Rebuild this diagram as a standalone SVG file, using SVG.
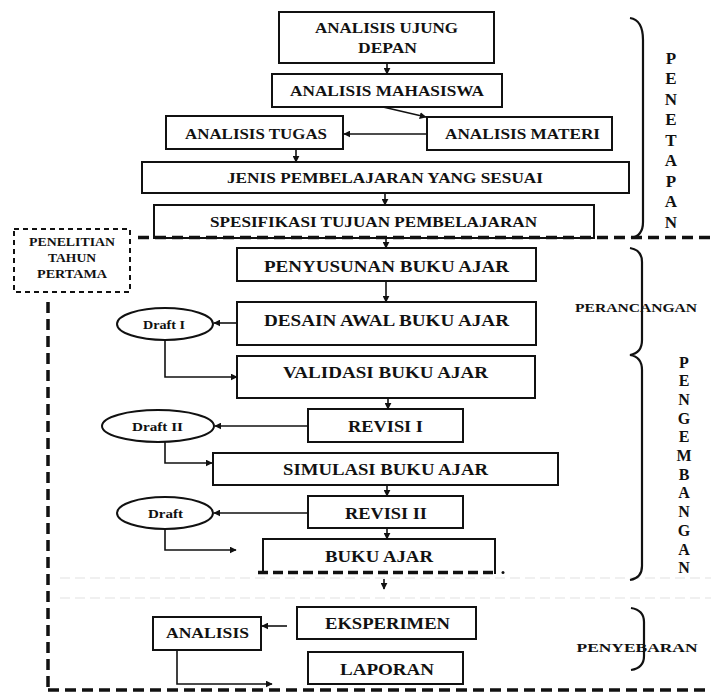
<svg xmlns="http://www.w3.org/2000/svg" width="711" height="695" viewBox="0 0 711 695">
<style>
.b{fill:#fff;stroke:#111;stroke-width:2}
.t{font-family:"Liberation Serif","Times New Roman",serif;font-weight:bold;fill:#111;text-anchor:middle}
.v{font-family:"Liberation Serif","Times New Roman",serif;font-weight:bold;fill:#111;text-anchor:middle}
.c{fill:none;stroke:#111;stroke-width:1.6}
.br{fill:none;stroke:#111;stroke-width:2.2}
.d{fill:none;stroke:#111;stroke-width:3.5;stroke-dasharray:11 6}
.faint{fill:none;stroke:#ececec;stroke-width:1.5;stroke-dasharray:10 5}
</style>
<defs>
<marker id="ah" viewBox="0 0 10 10" refX="9" refY="5" markerWidth="7" markerHeight="7" markerUnits="userSpaceOnUse" orient="auto">
<path d="M0,0 L10,5 L0,10 z" fill="#111"/>
</marker>
</defs>
<rect width="711" height="695" fill="#fff"/>

<g id="faint">
<line class="faint" x1="60" y1="578" x2="711" y2="578"/>
<line class="faint" x1="60" y1="598" x2="711" y2="598"/>
</g>

<g id="n-ujung"><rect class="b" x="279" y="12" width="215" height="51"/>
<text class="t" x="386.5" y="33" font-size="15" textLength="143" lengthAdjust="spacingAndGlyphs">ANALISIS UJUNG</text>
<text class="t" x="387.5" y="53" font-size="15" textLength="59" lengthAdjust="spacingAndGlyphs">DEPAN</text></g>
<g id="n-mahasiswa"><rect class="b" x="272" y="74" width="230" height="33"/>
<text class="t" x="387" y="96" font-size="15" textLength="194" lengthAdjust="spacingAndGlyphs">ANALISIS MAHASISWA</text></g>
<g id="n-tugas"><rect class="b" x="166" y="116" width="177" height="33"/>
<text class="t" x="256" y="139" font-size="15" textLength="142" lengthAdjust="spacingAndGlyphs">ANALISIS TUGAS</text></g>
<g id="n-materi"><rect class="b" x="427" y="117" width="185" height="33"/>
<text class="t" x="522.5" y="139" font-size="15" textLength="155" lengthAdjust="spacingAndGlyphs">ANALISIS MATERI</text></g>
<g id="n-jenis"><rect class="b" x="142" y="162" width="487" height="31"/>
<text class="t" x="385" y="183" font-size="15" textLength="316" lengthAdjust="spacingAndGlyphs">JENIS PEMBELAJARAN YANG SESUAI</text></g>
<g id="n-spesifikasi"><rect class="b" x="154" y="205" width="440" height="33"/>
<text class="t" x="373.5" y="227" font-size="15" textLength="327" lengthAdjust="spacingAndGlyphs">SPESIFIKASI TUJUAN PEMBELAJARAN</text></g>

<g id="n-penelitian"><rect x="14" y="229" width="116" height="63" fill="#fff" stroke="#111" stroke-width="2" stroke-dasharray="5 4"/>
<text class="t" x="72" y="246" font-size="12" textLength="86" lengthAdjust="spacingAndGlyphs">PENELITIAN</text>
<text class="t" x="72" y="262" font-size="12" textLength="48" lengthAdjust="spacingAndGlyphs">TAHUN</text>
<text class="t" x="72" y="278" font-size="12" textLength="70" lengthAdjust="spacingAndGlyphs">PERTAMA</text></g>

<g id="n-penyusunan"><rect class="b" x="237" y="248" width="299" height="33"/>
<text class="t" x="386.5" y="271.5" font-size="16" textLength="245" lengthAdjust="spacingAndGlyphs">PENYUSUNAN BUKU AJAR</text></g>
<g id="n-desain"><rect class="b" x="237" y="302" width="299" height="43"/>
<text class="t" x="386.5" y="325.5" font-size="16" textLength="245" lengthAdjust="spacingAndGlyphs">DESAIN AWAL BUKU AJAR</text></g>
<g id="n-draft1"><ellipse class="b" cx="165" cy="324" rx="48" ry="16"/>
<text class="t" x="164" y="328.5" font-size="13" textLength="42" lengthAdjust="spacingAndGlyphs">Draft I</text></g>
<g id="n-validasi"><rect class="b" x="237" y="356" width="298" height="42"/>
<text class="t" x="385.5" y="377.5" font-size="16" textLength="205" lengthAdjust="spacingAndGlyphs">VALIDASI BUKU AJAR</text></g>
<g id="n-revisi1"><rect class="b" x="308" y="409" width="155" height="33"/>
<text class="t" x="385.5" y="431.5" font-size="16" textLength="75" lengthAdjust="spacingAndGlyphs">REVISI I</text></g>
<g id="n-draft2"><ellipse class="b" cx="158" cy="426" rx="56" ry="16"/>
<text class="t" x="157.5" y="431" font-size="13" textLength="51" lengthAdjust="spacingAndGlyphs">Draft II</text></g>
<g id="n-simulasi"><rect class="b" x="213" y="453" width="345" height="32"/>
<text class="t" x="385.5" y="474.5" font-size="16" textLength="205" lengthAdjust="spacingAndGlyphs">SIMULASI BUKU AJAR</text></g>
<g id="n-revisi2"><rect class="b" x="308" y="496" width="155" height="32"/>
<text class="t" x="386" y="518.5" font-size="16" textLength="82" lengthAdjust="spacingAndGlyphs">REVISI II</text></g>
<g id="n-draft"><ellipse class="b" cx="165" cy="513" rx="48" ry="16"/>
<text class="t" x="165.5" y="517.5" font-size="13" textLength="35" lengthAdjust="spacingAndGlyphs">Draft</text></g>
<g id="n-bukuajar"><path d="M263,574 V539 H495 V574" fill="#fff" stroke="#111" stroke-width="2"/>
<line x1="258" y1="572.5" x2="495" y2="572.5" stroke="#111" stroke-width="3.5" stroke-dasharray="10 5"/>
<circle cx="503" cy="572.5" r="1.5" fill="#111"/>
<text class="t" x="379" y="561.5" font-size="16" textLength="108" lengthAdjust="spacingAndGlyphs">BUKU AJAR</text></g>
<g id="n-eksperimen"><rect class="b" x="297" y="607" width="179" height="32"/>
<text class="t" x="387.5" y="628.5" font-size="16" textLength="125" lengthAdjust="spacingAndGlyphs">EKSPERIMEN</text></g>
<g id="n-analisis"><rect class="b" x="153" y="617" width="108" height="33"/>
<text class="t" x="207.5" y="638" font-size="15" textLength="83" lengthAdjust="spacingAndGlyphs">ANALISIS</text></g>
<g id="n-laporan"><rect class="b" x="308" y="652" width="155" height="32"/>
<text class="t" x="387" y="674.5" font-size="16" textLength="94" lengthAdjust="spacingAndGlyphs">LAPORAN</text></g>

<g id="braces">
<path class="br" d="M630,18 Q643,20 643,40 L643,222 Q643,236 631,238"/>
<path class="br" d="M630,248 Q642,250 642,262 L642,340 Q642,353 630,355 Q642,357 642,370 L642,566 Q642,578 630,580"/>
<path class="br" d="M631,608 Q644,610 644,622 L644,656 Q644,668 631,670"/>
</g>
<g id="labels">
<text class="v" x="671" y="63.5" font-size="17">P</text>
<text class="v" x="671" y="84" font-size="17">E</text>
<text class="v" x="671" y="104.5" font-size="17">N</text>
<text class="v" x="671" y="125" font-size="17">E</text>
<text class="v" x="671" y="145.5" font-size="17">T</text>
<text class="v" x="671" y="166" font-size="17">A</text>
<text class="v" x="671" y="186.5" font-size="17">P</text>
<text class="v" x="671" y="207" font-size="17">A</text>
<text class="v" x="671" y="227.5" font-size="17">N</text>
<text class="t" x="636" y="311.5" font-size="13" textLength="122" lengthAdjust="spacingAndGlyphs">PERANCANGAN</text>
<text class="v" x="684" y="367.5" font-size="16">P</text>
<text class="v" x="684" y="386.2" font-size="16">E</text>
<text class="v" x="684" y="404.9" font-size="16">N</text>
<text class="v" x="684" y="423.6" font-size="16">G</text>
<text class="v" x="684" y="442.3" font-size="16">E</text>
<text class="v" x="684" y="461" font-size="16">M</text>
<text class="v" x="684" y="479.7" font-size="16">B</text>
<text class="v" x="684" y="498.4" font-size="16">A</text>
<text class="v" x="684" y="517.1" font-size="16">N</text>
<text class="v" x="684" y="535.8" font-size="16">G</text>
<text class="v" x="684" y="554.5" font-size="16">A</text>
<text class="v" x="684" y="573.2" font-size="16">N</text>
<text class="t" x="637" y="651.5" font-size="13" textLength="121" lengthAdjust="spacingAndGlyphs">PENYEBARAN</text>
</g>

<g id="dashes">
<line class="d" x1="138" y1="237.5" x2="711" y2="237.5"/>
<line class="d" x1="48" y1="302" x2="48" y2="690" stroke-width="3" stroke-dasharray="12 8"/>
<line class="d" x1="48" y1="690" x2="711" y2="690" stroke-width="4" stroke-dasharray="13 7"/>
</g>

<g id="connectors">
<line class="c" x1="387" y1="63" x2="387" y2="74" marker-end="url(#ah)"/>
<line class="c" x1="383" y1="107" x2="426" y2="117" marker-end="url(#ah)"/>
<line class="c" x1="427" y1="134" x2="344" y2="134" marker-end="url(#ah)"/>
<line class="c" x1="296" y1="149" x2="296" y2="162" marker-end="url(#ah)"/>
<line class="c" x1="385" y1="193" x2="385" y2="205" marker-end="url(#ah)"/>
<line class="c" x1="386" y1="238" x2="386" y2="248" marker-end="url(#ah)"/>
<line class="c" x1="386" y1="281" x2="386" y2="302" marker-end="url(#ah)"/>
<line class="c" x1="237" y1="323" x2="214" y2="323" marker-end="url(#ah)"/>
<path class="c" d="M165,340 V377 H237" marker-end="url(#ah)"/>
<line class="c" x1="388" y1="398" x2="388" y2="409" marker-end="url(#ah)"/>
<line class="c" x1="308" y1="426" x2="215" y2="426" marker-end="url(#ah)"/>
<path class="c" d="M165,442 V463 H212" marker-end="url(#ah)"/>
<line class="c" x1="387" y1="485" x2="387" y2="496" marker-end="url(#ah)"/>
<line class="c" x1="308" y1="513" x2="214" y2="513" marker-end="url(#ah)"/>
<path class="c" d="M165,529 V550 H236" marker-end="url(#ah)"/>
<line class="c" x1="387" y1="528" x2="387" y2="539" marker-end="url(#ah)"/>
<line class="c" x1="384" y1="579" x2="384" y2="589" marker-end="url(#ah)"/>
<line class="c" x1="287" y1="626" x2="262" y2="626" marker-end="url(#ah)"/>
<path class="c" d="M177,650 V684 H272" marker-end="url(#ah)"/>
</g>
</svg>
